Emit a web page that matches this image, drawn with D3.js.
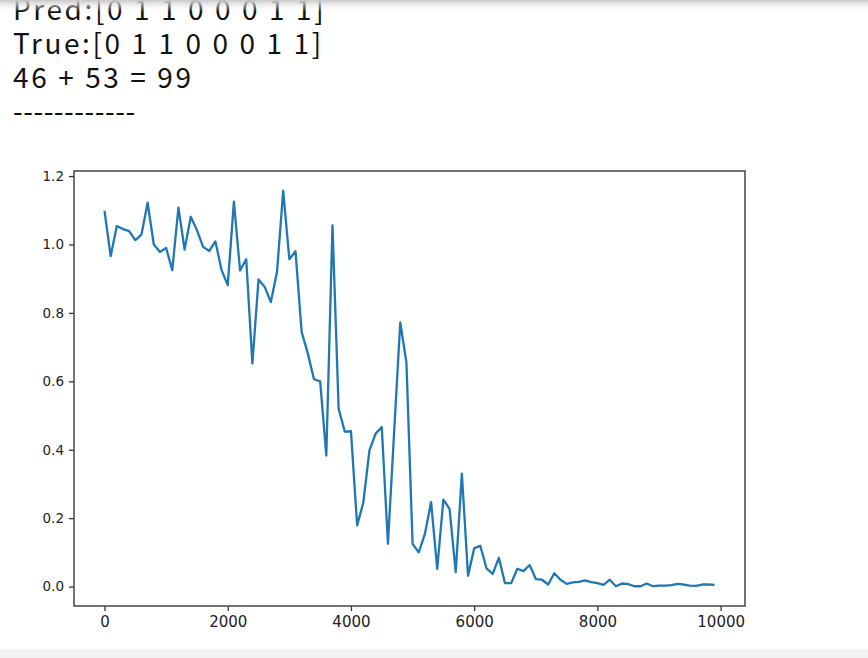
<!DOCTYPE html>
<html>
<head>
<meta charset="utf-8">
<script src="https://cdn.jsdelivr.net/npm/d3@7"></script>
<style>
    body { margin: 0; background: #fff; overflow: hidden; }
    .log { font-family: "Noto Sans CJK JP", "Noto Sans", sans-serif; font-size: 28px; fill: #111; }
    .tick text { font-family: "DejaVu Sans", sans-serif; font-size: 15px; fill: #222; }
    .yaxis .tick text { font-size: 13.5px; }
</style>
</head>
<body>
<div id="chart"></div>
<script>
// printed lines above the plot
const logLines = ["Pred:[0 1 1 0 0 0 1 1]", "True:[0 1 1 0 0 0 1 1]", "46 + 53 = 99", "------------"];

// loss every 100 steps
const steps = d3.range(0, 10000, 100);
const loss = [
    1.098, 0.966, 1.054, 1.045, 1.039, 1.013, 1.029, 1.122, 1.000, 0.978,
    0.990, 0.925, 1.108, 0.985, 1.081, 1.042, 0.993, 0.981, 1.009, 0.925,
    0.881, 1.125, 0.924, 0.957, 0.652, 0.898, 0.876, 0.832, 0.920, 1.157,
    0.957, 0.980, 0.744, 0.681, 0.606, 0.600, 0.383, 1.056, 0.520, 0.453,
    0.454, 0.179, 0.245, 0.398, 0.447, 0.466, 0.125, 0.450, 0.772, 0.655,
    0.125, 0.100, 0.154, 0.247, 0.052, 0.254, 0.227, 0.042, 0.330, 0.032,
    0.112, 0.119, 0.053, 0.037, 0.084, 0.010, 0.010, 0.052, 0.045, 0.063,
    0.022, 0.020, 0.006, 0.039, 0.020, 0.008, 0.012, 0.014, 0.018, 0.013,
    0.010, 0.005, 0.020, 0.001, 0.009, 0.007, 0.001, 0.001, 0.009, 0.001,
    0.003, 0.003, 0.004, 0.008, 0.006, 0.003, 0.002, 0.006, 0.006, 0.005
];
const xTicks = [0, 2000, 4000, 6000, 8000, 10000];
const yTicks = [0.0, 0.2, 0.4, 0.6, 0.8, 1.0, 1.2];

let width = 868, height = 658;
let plot = {left: 74, right: 745, top: 171, bottom: 606};

const svg = d3.select("#chart").append("svg")
    .attr("width", width)
    .attr("height", height);

// faint shadow at the top and grey strip at the bottom, like the screenshot
const defs = svg.append("defs");
const grad = defs.append("linearGradient").attr("id", "shade")
    .attr("x1", 0).attr("y1", 0).attr("x2", 0).attr("y2", 1);
grad.append("stop").attr("offset", 0).attr("stop-color", "#c8c8c8");
grad.append("stop").attr("offset", 1).attr("stop-color", "#fff").attr("stop-opacity", 0);

svg.selectAll("text.log")
    .data(logLines)
    .enter().append("text")
    .attr("class", "log")
    .attr("x", 13)
    .attr("y", (d, i) => 20 + i * 34)
    .style("letter-spacing", d => d.startsWith("--") ? "0.5px" : "2.6px")
    .text(d => d);

svg.append("rect").attr("width", width).attr("height", 12).attr("fill", "url(#shade)");
svg.append("rect").attr("y", 649).attr("width", width).attr("height", 9).attr("fill", "#f2f2f2");

// matplotlib style 5% margins
let xPad = (d3.max(steps) - d3.min(steps)) * 0.05;
let yPad = (d3.max(loss) - d3.min(loss)) * 0.05;
const x = d3.scaleLinear()
    .domain([d3.min(steps) - xPad, d3.max(steps) + xPad])
    .range([plot.left, plot.right]);
const y = d3.scaleLinear()
    .domain([d3.min(loss) - yPad, d3.max(loss) + yPad])
    .range([plot.bottom, plot.top]);

const line = d3.line()
    .x((d, i) => x(steps[i]))
    .y(d => y(d));

svg.append("path")
    .datum(loss)
    .attr("fill", "none")
    .attr("stroke", "#1f77b4")
    .attr("stroke-width", 2.3)
    .attr("stroke-linejoin", "round")
    .attr("d", line);

const xAxis = svg.append("g")
    .attr("transform", `translate(0,${plot.bottom})`)
    .call(d3.axisBottom(x).tickValues(xTicks).tickSize(5).tickPadding(5).tickFormat(d3.format("d")));
const yAxis = svg.append("g")
    .attr("class", "yaxis")
    .attr("transform", `translate(${plot.left},0)`)
    .call(d3.axisLeft(y).tickValues(yTicks).tickSize(5).tickPadding(5).tickFormat(d3.format(".1f")));

[xAxis, yAxis].forEach(a => {
    a.select(".domain").remove();
    a.selectAll(".tick line").attr("stroke", "#333").attr("stroke-width", 1.3);
});

// frame
svg.append("rect")
    .attr("x", plot.left)
    .attr("y", plot.top)
    .attr("width", plot.right - plot.left)
    .attr("height", plot.bottom - plot.top)
    .attr("fill", "none")
    .attr("stroke", "#444")
    .attr("stroke-width", 1.5);
</script>
</body>
</html>
